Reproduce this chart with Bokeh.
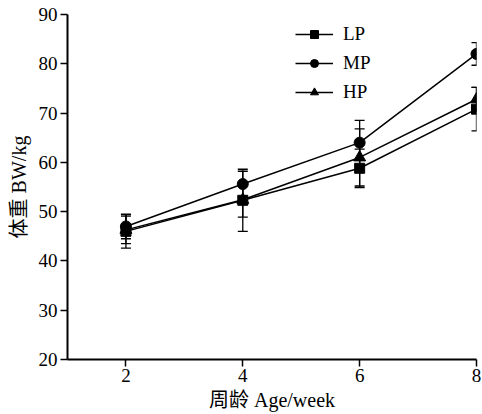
from bokeh.plotting import figure
from bokeh.models import Whisker, ColumnDataSource, Legend, LegendItem, Range1d, FixedTicker
from bokeh.embed import file_html
from bokeh.resources import INLINE

weeks = [2, 4, 6, 8]
lp = [46.0, 52.3, 58.8, 70.8]
lp_err = [3.4, 6.3, 3.9, 4.4]
mp = [47.0, 55.6, 64.0, 82.0]
mp_err = [2.5, 2.6, 4.5, 2.3]
hp = [46.3, 52.4, 61.0, 72.8]
hp_err = [2.8, 3.5, 5.8, 2.4]
y_ticks = [20, 30, 40, 50, 60, 70, 80, 90]
x_ticks = [2, 4, 6, 8]

FONT = "'Liberation Serif', 'Noto Sans CJK SC', serif"

p = figure(width=482, height=414, output_backend="svg", toolbar_location=None,
           x_range=Range1d(1, 8), y_range=Range1d(20, 90),
           min_border_left=67, min_border_right=6, min_border_top=14, min_border_bottom=55)
p.outline_line_color = None
p.grid.visible = False
p.background_fill_color = "white"

for ax in (p.xaxis[0], p.yaxis[0]):
    ax.axis_line_width = 2
    ax.major_tick_line_width = 1.5
    ax.major_tick_in = 0
    ax.major_tick_out = 7
    ax.minor_tick_line_color = None
    ax.major_label_text_font = FONT
    ax.major_label_text_font_size = "19px"
    ax.major_label_text_color = "black"
    ax.axis_label_text_font = FONT
    ax.axis_label_text_font_size = "20px"
    ax.axis_label_text_font_style = "normal"
    ax.axis_label_text_color = "black"
    ax.axis_line_color = "black"
    ax.major_tick_line_color = "black"

p.xaxis.ticker = FixedTicker(ticks=x_ticks)
p.yaxis.ticker = FixedTicker(ticks=y_ticks)
p.xaxis.axis_label = "周龄 Age/week"
p.yaxis.axis_label = "体重 BW/kg"
p.xaxis.major_label_standoff = 2
p.xaxis.axis_label_standoff = 4
p.yaxis.major_label_standoff = 3
p.yaxis.axis_label_standoff = 6

items = []
series = [("LP", lp, lp_err, "square", 10), ("MP", mp, mp_err, "circle", 11), ("HP", hp, hp_err, "triangle", 12)]
for name, vals, errs, marker, size in series:
    src = ColumnDataSource(dict(x=weeks, y=vals,
                                lo=[v - e for v, e in zip(vals, errs)],
                                hi=[v + e for v, e in zip(vals, errs)]))
    w = Whisker(source=src, base="x", lower="lo", upper="hi", line_color="black", line_width=1.3)
    w.upper_head.size = 10
    w.lower_head.size = 10
    w.upper_head.line_width = 1.3
    w.lower_head.line_width = 1.3
    p.add_layout(w)
    ln = p.line("x", "y", source=src, line_color="black", line_width=1.5)
    sc = p.scatter("x", "y", source=src, marker=marker, size=size, fill_color="black", line_color="black")
    items.append(LegendItem(label=name, renderers=[ln, sc]))

legend = Legend(items=items, location=(228, 256), glyph_width=38, glyph_height=20,
                label_standoff=10, spacing=7, padding=0, margin=0,
                border_line_alpha=0, background_fill_alpha=0,
                label_text_font=FONT, label_text_font_size="19px", label_text_color="black")
p.add_layout(legend, "center")

open("out.html", "w").write(file_html(p, INLINE))
